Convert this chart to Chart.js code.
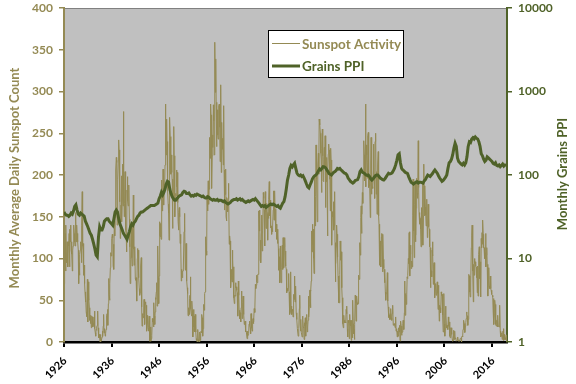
<!DOCTYPE html>
<html>
<head>
<meta charset="utf-8">
<script src="https://cdn.jsdelivr.net/npm/chart.js@4.4.0/dist/chart.umd.min.js"></script>
<style>
  html, body { margin: 0; padding: 0; background: #ffffff; }
</style>
</head>
<body>
<canvas id="chart" width="576" height="384"></canvas>
<script>
// monthly sunspot counts, Jan 1926 .. Mar 2019 (one row per year)
const startYear = 1926;
const tickYears = [1926, 1936, 1946, 1956, 1966, 1976, 1986, 1996, 2006, 2016];
const ppiTicks = [1, 10, 100, 1000, 10000];
const seriesNames = ['Sunspot Activity', 'Grains PPI'];
const axisTitles = ['Monthly Average Daily Sunspot Count', 'Monthly Grains PPI'];

const sunspots = [
  70,115,100,130,85,140,100,95,120,110,90,120,
  115,130,90,135,120,140,110,120,105,85,110,115,
  125,140,130,120,115,155,145,120,140,130,125,120,
  110,70,95,80,105,110,120,115,95,140,180,115,
  110,118,80,92,70,60,48,55,36,30,32,75,
  24,72,50,52,41,26,29,22,32,17,31,30,
  20,18,19,19,30,37,16,11,7,15,14,18,
  20,37,17,5,5,9,5,0,9,5,1,1,
  6,13,7,19,33,11,16,14,7,10,15,26,
  32,34,39,20,46,76,57,50,70,89,107,103,
  105,124,129,125,91,117,87,145,127,149,193,206,
  221,215,140,183,195,218,242,230,168,209,124,148,
  164,199,144,169,213,163,276,193,150,166,204,155,
  134,129,108,182,198,169,163,177,188,147,114,70,
  84,99,139,101,91,140,113,176,111,92,98,114,
  76,74,77,55,49,100,112,100,110,77,64,56,
  59,88,91,101,42,19,30,34,29,32,51,38,
  21,48,46,44,24,13,22,32,17,13,17,31,
  6,1,18,1,4,8,8,28,24,28,18,47,
  31,21,36,53,51,60,71,43,58,115,77,46,
  79,144,128,126,142,123,194,179,157,171,207,203,
  164,189,184,212,285,232,224,267,240,232,181,165,
  154,122,134,269,246,238,201,224,203,193,136,195,
  169,258,223,208,150,172,178,175,206,186,203,167,
  144,134,155,161,150,118,129,121,73,87,78,77,
  85,85,85,132,154,142,87,86,118,73,74,65,
  58,32,31,41,33,52,56,78,40,34,31,49,
  38,6,14,39,18,31,12,33,27,12,2,4,
  0,1,15,3,1,0,7,12,2,10,13,11,
  33,29,7,16,41,45,38,58,60,83,126,109,
  104,176,168,157,193,165,183,240,245,220,285,272,
  234,184,223,248,233,284,265,224,334,359,299,339,
  287,234,270,278,248,243,271,283,285,257,216,266,
  308,203,263,231,244,239,212,283,206,158,176,177,
  207,150,145,173,169,156,172,190,180,117,127,121,
  82,65,75,87,72,110,99,79,90,53,46,56,
  55,71,65,66,62,59,31,31,73,56,38,33,
  28,35,24,41,61,51,28,47,55,50,33,21,
  22,25,23,12,13,13,4,13,7,9,10,21,
  25,20,17,10,34,23,17,13,24,28,22,24,
  40,35,36,69,64,68,80,72,71,81,81,100,
  157,133,158,98,122,95,130,152,109,125,134,179,
  172,158,131,115,180,156,136,155,166,153,122,155,
  148,171,192,151,170,150,137,139,129,136,132,139,
  158,181,146,155,181,151,159,132,141,123,135,118,
  129,112,86,102,81,71,115,87,71,73,89,116,
  87,125,113,89,114,125,108,109,91,87,59,64,
  61,61,65,82,60,56,33,36,84,43,34,33,
  39,37,30,57,56,51,79,48,57,67,35,29,
  27,16,16,7,13,16,40,56,20,13,27,11,
  11,6,31,27,18,17,3,23,19,29,7,22,
  23,33,12,18,26,55,30,43,62,62,41,61,
  73,133,108,141,117,135,100,82,196,177,139,174,
  236,195,195,144,190,212,226,201,267,264,260,250,
  226,219,179,232,255,223,193,192,219,233,209,247,
  161,200,192,221,181,127,204,225,237,230,195,213,
  157,232,218,173,116,156,150,152,168,134,139,180,
  119,72,94,114,140,129,116,102,71,79,47,47,
  81,121,118,98,108,65,53,36,22,17,32,26,
  23,23,24,23,39,34,43,16,6,26,23,24,
  4,33,21,26,19,2,26,10,5,50,22,10,
  15,3,21,56,47,25,48,55,47,45,46,69,
  80,75,109,119,104,149,163,130,153,179,166,200,
  234,241,224,193,203,285,186,236,224,215,196,247,
  251,185,199,199,187,149,212,245,177,206,186,184,
  194,237,201,198,172,240,246,250,177,204,153,204,
  212,228,151,141,104,92,121,91,90,126,130,117,
  84,129,99,88,87,71,82,60,50,58,61,61,
  83,49,42,29,31,32,27,34,27,40,29,26,
  34,42,44,20,21,22,21,20,17,30,13,14,
  16,6,13,7,8,17,12,20,2,1,25,19,
  8,11,12,22,26,18,15,35,73,32,55,58,
  45,57,78,76,80,100,94,131,132,79,105,116,
  88,94,97,90,151,195,161,133,101,165,189,120,
  128,160,196,178,172,177,241,185,155,141,151,148,
  135,114,161,153,137,190,116,151,213,178,151,187,
  162,152,139,171,171,125,141,165,155,138,135,114,
  113,65,87,85,78,110,120,103,69,93,95,66,
  53,65,70,56,59,61,72,58,39,68,62,25,
  44,41,35,35,60,56,57,52,32,12,25,58,
  22,7,15,43,32,20,17,18,20,15,30,19,
  24,15,7,5,17,17,14,9,3,1,2,14,
  5,3,13,4,5,5,1,1,2,4,6,1,
  2,2,1,1,4,4,5,0,6,7,6,15,
  19,26,22,11,12,19,23,28,36,33,31,20,
  27,42,81,79,60,54,64,73,113,128,140,106,
  85,48,93,80,100,94,96,91,89,77,90,59,
  91,55,84,105,114,76,83,96,54,124,113,131,
  117,146,129,113,113,103,100,107,130,90,104,113,
  93,67,55,75,89,67,66,64,79,64,62,58,
  57,56,54,38,52,21,32,50,45,33,21,19,
  26,26,18,32,19,19,18,33,44,13,6,8,
  7,11,3,9,13,16,2,9,3,5,5,3,
  8,1,9
];

// grains PPI, quarterly, Q1 1926 .. Q1 2019 (four per year)
const grainsPPI = [
  36,34,33,33, 32,33,35,34, 37,42,44,38, 34,33,35,34,
  33,32,28,26, 24,22,20,19, 17,15,13,11, 10.5,18,24,22,
  22,24,28,29, 30,30,28,27, 26,25,30,36, 38,36,30,26,
  24,22,20,19, 18,17,19,21, 24,26,25,27, 28,30,32,33,
  35,36,36,37, 38,39,40,41, 42,43,43,43, 43,44,45,46,
  52,56,62,58, 62,68,78,84, 82,68,60,55, 52,50,50,52,
  54,56,57,58, 62,64,63,60, 60,61,58,56, 57,56,58,57,
  59,58,57,56, 55,56,54,53, 53,55,54,52, 51,50,51,50,
  50,51,49,50, 50,49,48,49, 47,46,45,46, 47,49,50,51,
  51,52,50,51, 52,50,51,49, 48,47,48,49, 48,49,50,51,
  50,52,50,48, 46,44,42,43, 42,43,41,42, 43,44,45,44,
  45,44,43,42, 43,41,40,43, 46,48,55,68, 87,100,120,130,
  125,132,138,120, 105,100,98,100, 96,98,92,85, 78,72,70,76,
  82,90,95,98, 100,105,112,118, 115,120,126,125, 122,116,110,104,
  102,100,104,108, 110,114,120,118, 120,115,112,108, 105,104,100,92,
  88,84,82,80, 82,86,87,88, 95,110,115,108, 106,104,100,99,
  100,96,90,87, 90,94,98,100, 100,96,92,90, 88,87,90,95,
  100,105,103,104, 106,112,120,132, 150,175,180,140, 120,115,112,108,
  106,104,95,88, 82,80,78,80, 82,83,80,82, 82,81,80,85,
  88,94,100,98, 96,100,104,110, 115,110,105,98, 92,88,84,86,
  90,94,100,120, 140,145,155,175, 210,240,220,160, 145,140,135,132,
  138,132,140,165, 220,250,245,270, 280,270,285,275, 270,250,220,180,
  170,155,145,150, 165,160,155,150, 145,138,135,140, 130,128,132,126,
  130,135,128,132, 130
];

const tan = '#948A54';
const green = '#4F6228';
const fontFamily = 'Lato, "Open Sans", sans-serif';
const tickFont = { family: fontFamily, size: 12, weight: 'bold' };

const sunspotPoints = sunspots.map((v, i) => ({ x: startYear + i / 12, y: v }));
const ppiPoints = grainsPPI.map((v, i) => ({ x: startYear + i / 4, y: v }));

// keep the plot area where the axes are forced to be
function fixWidth(w) {
  return s => { s.width = w; s.paddingTop = 0; s.paddingBottom = 0; };
}

const plotBg = {
  id: 'plotBg',
  beforeDraw(chart) {
    const { ctx, chartArea: a } = chart;
    ctx.save();
    ctx.fillStyle = '#C0C0C0';
    ctx.fillRect(a.left, a.top, a.right - a.left, a.bottom - a.top);
    ctx.strokeStyle = '#808080';
    ctx.lineWidth = 1;
    ctx.beginPath();
    ctx.moveTo(a.left, a.top + 0.5);
    ctx.lineTo(a.right, a.top + 0.5);
    ctx.stroke();
    ctx.restore();
  }
};

// rotated axis titles (both read bottom to top) and slanted year labels
const axisText = {
  id: 'axisText',
  afterDraw(chart) {
    const { ctx, chartArea: a } = chart;
    const mid = (a.top + a.bottom) / 2;
    const items = [[15, mid + 3, tan, axisTitles[0]], [563, mid - 1, green, axisTitles[1]]];
    ctx.save();
    ctx.font = 'bold 13px ' + fontFamily;
    ctx.textAlign = 'center';
    ctx.textBaseline = 'middle';
    items.forEach(([x, y, color, text]) => {
      ctx.save();
      ctx.translate(x, y);
      ctx.rotate(-Math.PI / 2);
      ctx.fillStyle = color;
      ctx.fillText(text, 0, 0);
      ctx.restore();
    });

    const xs = chart.scales.x;
    ctx.font = 'bold 11px ' + fontFamily;
    ctx.textAlign = 'right';
    ctx.fillStyle = '#000000';
    xs.ticks.forEach(t => {
      ctx.save();
      ctx.translate(xs.getPixelForValue(t.value) + 1, a.bottom + 17);
      ctx.rotate(-Math.PI / 4);
      ctx.fillText(String(t.value), 0, 0);
      ctx.restore();
    });
    ctx.restore();
  }
};

const legendBox = {
  id: 'legendBox',
  afterDraw(chart) {
    const ctx = chart.ctx;
    const ds = chart.data.datasets;
    ctx.save();
    ctx.fillStyle = '#FFFFFF';
    ctx.fillRect(268, 30, 135, 48);
    ctx.strokeStyle = '#000000';
    ctx.lineWidth = 1;
    ctx.strokeRect(268.5, 30.5, 135, 47);
    ctx.font = 'bold 13.5px ' + fontFamily;
    ctx.textBaseline = 'middle';
    [43.5, 66].forEach((y, i) => {
      ctx.strokeStyle = ds[i].borderColor;
      ctx.lineWidth = ds[i].borderWidth;
      ctx.beginPath();
      ctx.moveTo(272, y);
      ctx.lineTo(300, y);
      ctx.stroke();
      ctx.fillStyle = ds[i].borderColor;
      ctx.fillText(ds[i].label, 302, y + 1);
    });
    ctx.restore();
  }
};

new Chart(document.getElementById('chart'), {
  type: 'line',
  data: {
    datasets: [
      {
        label: seriesNames[0],
        data: sunspotPoints,
        yAxisID: 'ySun',
        borderColor: tan,
        borderWidth: 1,
        pointRadius: 0,
        order: 2
      },
      {
        label: seriesNames[1],
        data: ppiPoints,
        yAxisID: 'yPPI',
        borderColor: green,
        borderWidth: 3,
        pointRadius: 0,
        order: 1
      }
    ]
  },
  options: {
    responsive: false,
    animation: false,
    parsing: false,
    layout: { padding: { top: 8, left: 0, right: 0, bottom: 0 } },
    plugins: { legend: { display: false }, tooltip: { enabled: false } },
    scales: {
      x: {
        type: 'linear',
        min: startYear,
        max: startYear + (sunspots.length - 1) / 12,
        afterBuildTicks: s => { s.ticks = tickYears.map(v => ({ value: v })); },
        afterFit: s => { s.height = 42; s.paddingLeft = 0; s.paddingRight = 0; },
        ticks: { display: false, autoSkip: false },
        grid: { drawOnChartArea: false, tickLength: 5, color: '#000000', lineWidth: 2 },
        border: { color: '#000000', width: 2.5 }
      },
      ySun: {
        position: 'left',
        min: 0,
        max: 400,
        afterFit: fixWidth(64),
        ticks: { stepSize: 50, color: tan, font: tickFont, padding: 6 },
        grid: { drawOnChartArea: false, tickLength: 5, color: tan, lineWidth: 1.5 },
        border: { color: tan, width: 2 }
      },
      yPPI: {
        type: 'logarithmic',
        position: 'right',
        min: 1,
        max: 10000,
        afterBuildTicks: s => { s.ticks = ppiTicks.map(v => ({ value: v })); },
        afterFit: fixWidth(69),
        ticks: { color: green, font: tickFont, padding: 6, callback: v => String(v) },
        grid: { drawOnChartArea: false, tickLength: 5, color: green, lineWidth: 1.5 },
        border: { color: green, width: 2 }
      }
    }
  },
  plugins: [plotBg, axisText, legendBox]
});
</script>
</body>
</html>
